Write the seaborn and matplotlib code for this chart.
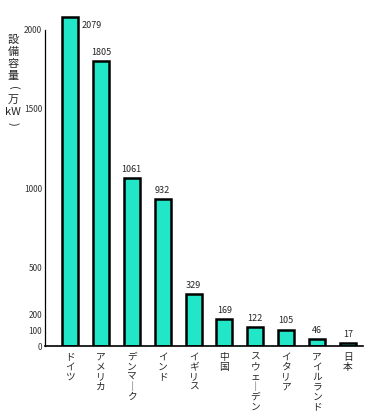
import matplotlib
matplotlib.use("Agg")
import matplotlib.pyplot as plt
import seaborn as sns
import pandas as pd

# data
countries = ["ドイツ", "アメリカ", "デンマーク", "インド", "イギリス",
             "中国", "スウェーデン", "イタリア", "アイルランド", "日本"]
capacity = [2079, 1805, 1061, 932, 329, 169, 122, 105, 46, 17]
value_labels = ["2079", "1805", "1061", "932", "329", "169", "122", "105", "46", "17"]
yticks = [0, 100, 200, 500, 1000, 1500, 2000]
ylabel_chars = ["設", "備", "容", "量", "(", "万", "kW", ")"]

sns.set_theme(style="white")
plt.rcParams['font.family'] = ['Noto Sans CJK JP', 'DejaVu Sans']

df = pd.DataFrame({"country": countries, "capacity": capacity})

fig = plt.figure(figsize=(3.86, 4.16), dpi=100)
ax = fig.add_axes([45/386, 0.168, 0.825, 0.817])

sns.barplot(data=df, x="country", y="capacity", color="#22e6c8",
            saturation=1, width=0.52, edgecolor="black", linewidth=1.8, ax=ax)

ax.set_xlim(-0.81, 9.5)
ax.set_ylim(0, 2150)

# vertical (stacked) tick labels, long vowel mark turned upright
def stack(s):
    return "\n".join(c if c != "ー" else "｜" for c in s)

ax.set_xticks(range(len(countries)))
ax.set_xticklabels([stack(c) for c in countries], fontsize=7,
                   linespacing=1.0, va="top")
ax.tick_params(axis="x", length=0, pad=4)

ax.set_yticks(yticks)
ax.set_yticklabels([str(t) for t in yticks], fontsize=6, color="#333333")
ax.tick_params(axis="y", length=0, pad=2)

for s in ["top", "right"]:
    ax.spines[s].set_visible(False)
ax.spines["left"].set_bounds(0, 2000)
ax.spines["left"].set_color("black")
ax.spines["left"].set_linewidth(0.9)
ax.spines["bottom"].set_color("black")
ax.spines["bottom"].set_linewidth(1.2)
ax.set_xlabel("")
ax.set_ylabel("")

for i, (v, lab) in enumerate(zip(capacity, value_labels)):
    if i == 0:
        ax.annotate(lab, (i + 0.28, v), xytext=(2, -6), textcoords="offset points",
                    ha="left", va="center", fontsize=6.5)
    else:
        ax.annotate(lab, (i, v), xytext=(0, 3), textcoords="offset points",
                    ha="center", va="bottom", fontsize=6.5)

# y label written top to bottom, one character per row
for k, ch in enumerate(ylabel_chars):
    rot = -90 if ch in "()" else 0
    fig.text(13/386, 1 - (40 + 12 * k)/416, ch, fontsize=8,
             ha="center", va="center", rotation=rot)

fig.savefig("out.png", dpi=100, facecolor="white")
